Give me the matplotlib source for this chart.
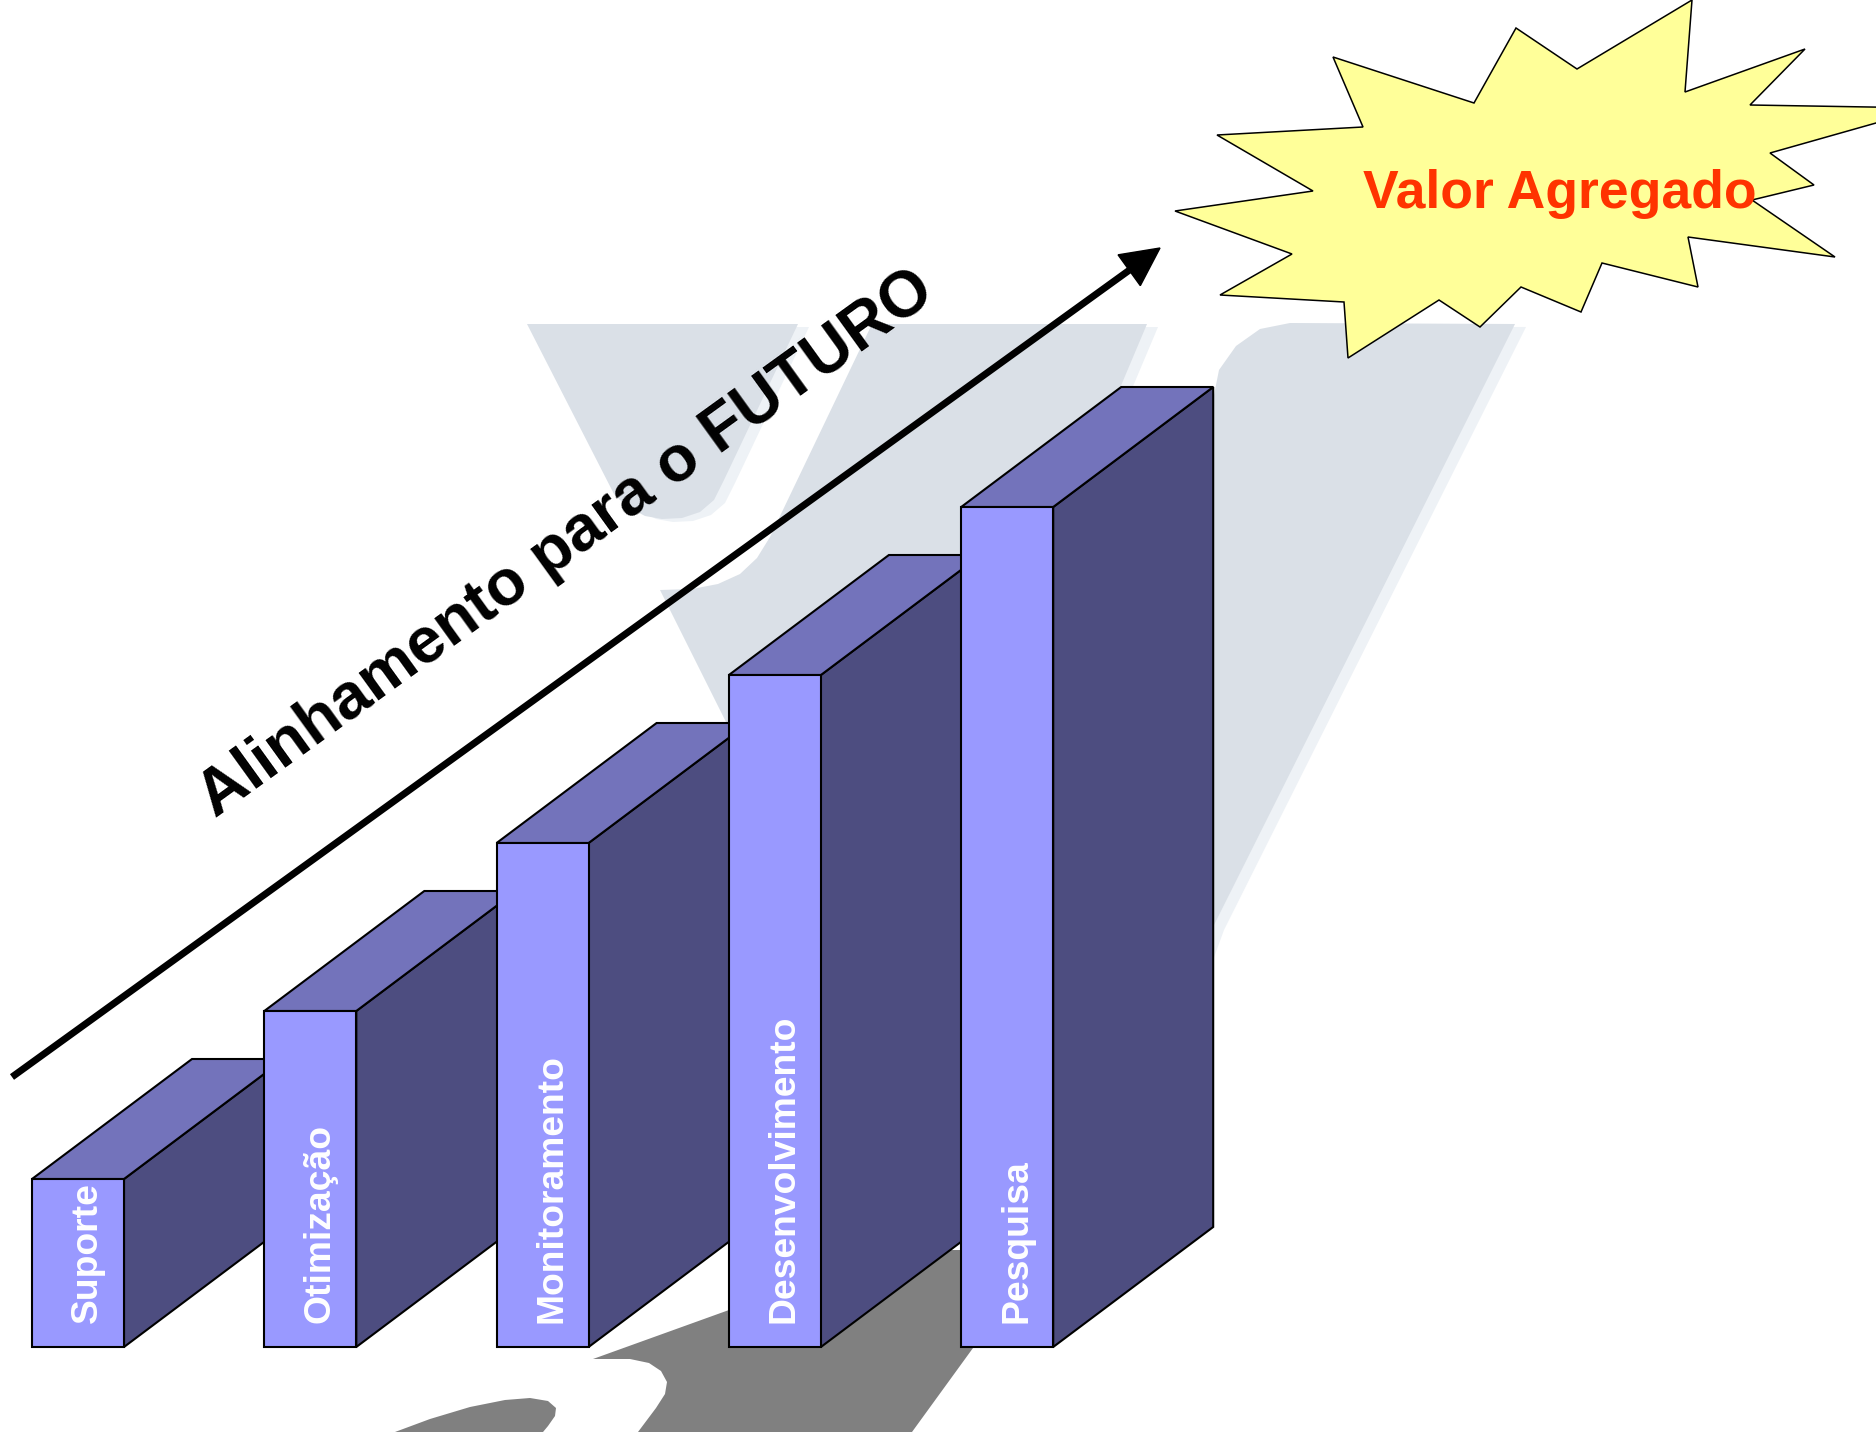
import numpy as np
import matplotlib.pyplot as plt
from matplotlib.patches import Polygon

plt.rcParams['font.family'] = ['Liberation Sans', 'DejaVu Sans']

# steps of the staircase, lowest to highest
categories = ['Suporte', 'Otimização', 'Monitoramento', 'Desenvolvimento', 'Pesquisa']
levels = [1, 2, 3, 4, 5]

arrow_label = 'Alinhamento para o FUTURO'
star_label = 'Valor Agregado'

# canvas is worked in pixels, y going down
W, H = 1876, 1432
base_y = 1347
unit_h = 168
first_x = 32
step_x = 232.3
bar_w = 92
depth_dx, depth_dy = 160, -120

front_col = '#9999FF'
top_col = '#7373BB'
side_col = '#4D4D80'

# arrow from lower left to upper right
arrow_start = (12, 1077)
arrow_tip = (1160, 248)

# burst outline
star_x = [1692, 1685, 1805, 1750, 1929, 1770, 1814, 1752, 1835, 1688, 1698, 1602, 1581,
          1521, 1480, 1439, 1348, 1344, 1220, 1292, 1175, 1313, 1217, 1363, 1333, 1474,
          1516, 1577]
star_y = [0, 92, 49, 105, 108, 153, 185, 200, 257, 237, 287, 263, 312,
          287, 327, 300, 358, 302, 295, 254, 211, 191, 135, 127, 57, 103,
          28, 69]

# faded logo in the background
wm_left = [(527, 324), (798, 324), (724, 480), (714, 500), (700, 512), (682, 518),
           (662, 519), (645, 516), (632, 509), (620, 500), (614, 494)]
wm_mid = [(660, 590), (692, 589), (718, 584), (740, 574), (757, 558), (770, 537),
          (872, 324), (1147, 324), (1120, 388), (1000, 650), (780, 830)]
wm_right = [(1290, 323), (1515, 324), (1213, 927), (1150, 1100), (1060, 1100),
            (1100, 700), (1213, 400), (1219, 370), (1236, 346), (1260, 329)]

# grey swoosh under the bars
swoosh_small = [(395, 1432), (430, 1419), (470, 1407), (505, 1400), (530, 1398),
                (548, 1401), (556, 1408), (555, 1416), (548, 1426), (543, 1432)]
swoosh_big = [(593, 1359), (729, 1310), (900, 1250), (1000, 1250), (1000, 1310),
              (973, 1348), (912, 1432), (638, 1432), (656, 1408), (665, 1394),
              (667, 1382), (661, 1371), (649, 1363), (630, 1359)]


def draw_bar(ax, x, h, label):
    top = base_y - h
    side = [(x + bar_w, base_y), (x + bar_w, top),
            (x + bar_w + depth_dx, top + depth_dy), (x + bar_w + depth_dx, base_y + depth_dy)]
    roof = [(x, top), (x + depth_dx, top + depth_dy),
            (x + bar_w + depth_dx, top + depth_dy), (x + bar_w, top)]
    front = [(x, base_y), (x, top), (x + bar_w, top), (x + bar_w, base_y)]
    for pts, col in [(side, side_col), (roof, top_col), (front, front_col)]:
        ax.add_patch(Polygon(pts, closed=True, facecolor=col, edgecolor='black',
                             linewidth=1.5, joinstyle='miter'))
    ax.text(x + bar_w / 2 + 19, base_y - 24, label, rotation=90, rotation_mode='anchor',
            ha='left', va='baseline', color='white', fontsize=26.8, fontweight='bold')


fig = plt.figure(figsize=(W / 100, H / 100), dpi=100)
ax = fig.add_axes([0, 0, 1, 1])
ax.set_xlim(0, W)
ax.set_ylim(H, 0)
ax.axis('off')

# watermark with its light rim
for shape in [wm_left, wm_mid, wm_right]:
    pts = np.array(shape, dtype=float)
    ax.add_patch(Polygon(pts + [11, 3], closed=True, facecolor='#EEF2F6', edgecolor='none'))
for shape in [wm_left, wm_mid, wm_right]:
    ax.add_patch(Polygon(shape, closed=True, facecolor='#DAE0E7', edgecolor='none'))

for shape in [swoosh_small, swoosh_big]:
    ax.add_patch(Polygon(shape, closed=True, facecolor='#808080', edgecolor='none'))

for i, (cat, lev) in enumerate(zip(categories, levels)):
    draw_bar(ax, first_x + i * step_x, lev * unit_h, cat)

# arrow: shaft + head
sx, sy = arrow_start
tx, ty = arrow_tip
d = np.array([tx - sx, ty - sy], dtype=float)
u = d / np.hypot(*d)
n = np.array([-u[1], u[0]])
head_len, head_half = 38, 19
base = np.array([tx, ty]) - head_len * u
ax.plot([sx, base[0]], [sy, base[1]], color='black', linewidth=5, solid_capstyle='butt')
ax.add_patch(Polygon([(tx, ty), base + head_half * n, base - head_half * n],
                     closed=True, facecolor='black', edgecolor='black', linewidth=1))

angle = np.degrees(np.arctan2(sy - ty, tx - sx))
ax.text(215, 818, arrow_label, rotation=angle, rotation_mode='anchor',
        ha='left', va='baseline', fontsize=46.5, fontweight='bold', color='black')

ax.add_patch(Polygon(np.column_stack([star_x, star_y]), closed=True,
                     facecolor='#FFFF99', edgecolor='black', linewidth=1.1))
ax.text(1560, 208, star_label, ha='center', va='baseline', color='#FF3300',
        fontsize=38.5, fontweight='bold')

fig.savefig('out.png', dpi=100)
